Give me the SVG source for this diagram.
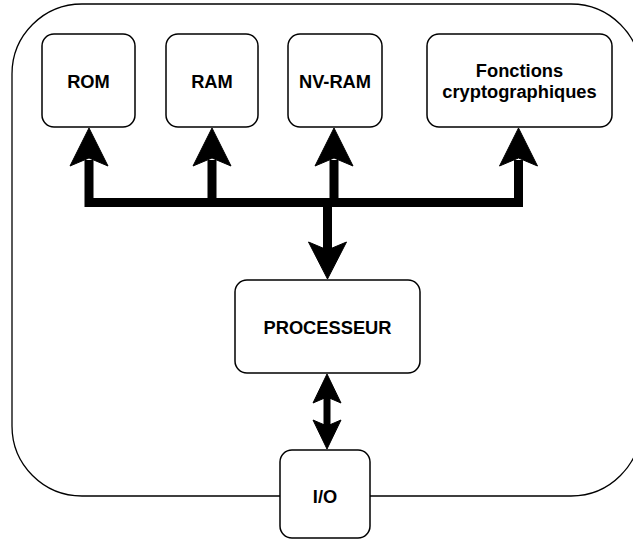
<svg xmlns="http://www.w3.org/2000/svg" width="633" height="541" viewBox="0 0 633 541">
<style>
.box{fill:#fff;stroke:#000;stroke-width:1.5}
.lbl{font-family:"Liberation Sans",Arial,Helvetica,sans-serif;font-weight:bold;font-size:18.3px;text-anchor:middle;fill:#000}
.bus{fill:none;stroke:#000;stroke-width:9;stroke-linejoin:miter}
.head{fill:#000;stroke:#000;stroke-width:1}
</style>
<rect width="633" height="541" fill="#fff"/>
<g id="chip">
<rect x="12" y="4" width="629" height="492" rx="70" ry="70" fill="#fff" stroke="#000" stroke-width="1.3"/>
</g>
<g id="connectors">
<path class="bus" d="M89 160 V202.5 H518.5 V160 M212 160 V202.5 M334 160 V202.5 M327.5 202.5 V252"/>
<polygon class="head" points="89,128 70,166 89,158 108,166"/>
<polygon class="head" points="212,128 193,166 212,158 231,166"/>
<polygon class="head" points="334,128 315,166 334,158 353,166"/>
<polygon class="head" points="518.5,128 499.5,166 518.5,158 537.5,166"/>
<polygon class="head" points="327.5,279 308.5,242 327.5,250 346.5,242"/>
<path d="M327 397 V426" stroke="#000" stroke-width="7" fill="none"/>
<polygon class="head" points="327,374 313,403 327,397 341,403"/>
<polygon class="head" points="327,449 313,420 327,426 341,420"/>
</g>
<g id="rom"><rect class="box" x="42" y="34" width="93" height="93" rx="12"/><text class="lbl" x="88.5" y="88">ROM</text></g>
<g id="ram"><rect class="box" x="166" y="34" width="92" height="93" rx="12"/><text class="lbl" x="212" y="88">RAM</text></g>
<g id="nvram"><rect class="box" x="288" y="34" width="94" height="93" rx="12"/><text class="lbl" x="335" y="88">NV-RAM</text></g>
<g id="crypto"><rect class="box" x="427" y="34" width="185" height="93" rx="12"/><text class="lbl" x="519.5" y="77">Fonctions</text><text class="lbl" x="519.5" y="98">cryptographiques</text></g>
<g id="processeur"><rect class="box" x="235" y="280" width="185" height="93" rx="12"/><text class="lbl" x="327.5" y="334">PROCESSEUR</text></g>
<g id="io"><rect class="box" x="280" y="450" width="90" height="88" rx="12"/><text class="lbl" x="325" y="503">I/O</text></g>
</svg>
